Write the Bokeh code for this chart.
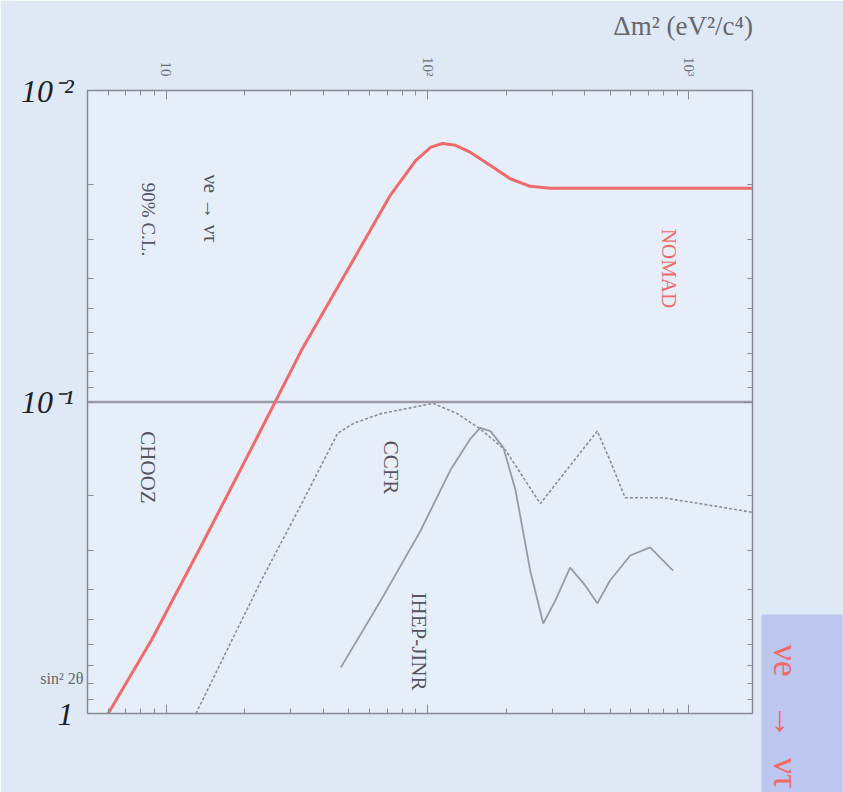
import math
from bokeh.plotting import figure
from bokeh.models import Range1d, LogAxis, FixedTicker, Label, Title
from bokeh.embed import file_html
from bokeh.resources import INLINE

# ---------------- data ----------------
nomad_dm2 = [6.0, 8.8, 13.6, 21, 33, 51, 72, 90, 103, 114, 128, 146, 174, 207, 247, 295, 460, 1750]
nomad_s2 = [1.0, 0.58, 0.29, 0.143, 0.068, 0.036, 0.0217, 0.0168, 0.0152, 0.0148, 0.0150, 0.0158,
            0.0174, 0.0192, 0.0203, 0.0206, 0.0206, 0.0206]

ccfr_dm2 = [13.0, 23.1, 32.7, 45.3, 52.2, 66.2, 105, 130, 159, 199, 270, 351, 446, 499, 570, 796, 1102, 1750]
ccfr_s2 = [1.0, 0.374, 0.215, 0.126, 0.117, 0.109, 0.101, 0.109, 0.122, 0.143, 0.212, 0.160, 0.124,
           0.154, 0.203, 0.203, 0.212, 0.226]

ihep_dm2 = [46.6, 66.2, 94.0, 122, 146, 159, 174, 195, 217, 247, 277, 308, 351, 401, 446, 499, 596, 710, 869]
ihep_s2 = [0.711, 0.434, 0.259, 0.166, 0.131, 0.121, 0.124, 0.140, 0.192, 0.348, 0.514, 0.434, 0.340,
           0.388, 0.443, 0.374, 0.311, 0.293, 0.348]

chooz_dm2 = [5.0, 1750.0]
chooz_s2 = [0.1, 0.1]

dm2_ticks = [10, 100, 1000]
dm2_tick_labels = ["10", "10²", "10³"]
s2_ticks = [0.01, 0.1, 1]
s2_tick_labels = ["10⁻²", "10⁻¹", "1"]

dm2_title, dm2_title_at = "Δm² (eV²/c⁴)", 950
s2_title, s2_title_at = "sin² 2θ", 0.77
NB = "\u00a0"
channel_text = "νe" + NB * 3 + "→" + NB * 2 + "ντ"

# ---------------- layout helpers ----------------
W, H = 843, 792
FL, FR, FT, FB = 87, 752, 90, 713
X0, X1 = 5.0, 1750.0
Y0, Y1 = 0.01, 1.0


def dx(px):
    return 10 ** (math.log10(X0) + (px - FL) / (FR - FL) * (math.log10(X1) - math.log10(X0)))


def dy(py):
    return 10 ** (math.log10(Y0) + (py - FT) / (FB - FT) * (math.log10(Y1) - math.log10(Y0)))


BG = "#dfe9f6"
SERIF = "Liberation Serif"
GRAY_TXT = "#55555f"
AX_COL = "#8a8a96"
RED = "#f06a6a"
ROT = -math.pi / 2

p = figure(width=W, height=H, x_axis_type="log", y_axis_type="log",
           x_range=Range1d(X0, X1), y_range=Range1d(Y1, Y0),
           x_axis_location="above", y_axis_location=None,
           output_backend="svg", toolbar_location=None,
           min_border_left=FL, min_border_right=W - FR, min_border_top=FT, min_border_bottom=H - FB)
p.background_fill_color = "#e6eef9"
p.border_fill_color = BG
p.outline_line_color = AX_COL
p.outline_line_width = 1.5
p.grid.visible = False


def minor_list(lo, hi, with_decades=False):
    out = []
    e = lo
    while e < hi:
        for k in range(1 if with_decades else 2, 10):
            out.append(k * 10 ** e)
        e += 1
    return out


def style_ticks(a):
    a.axis_line_color = AX_COL
    a.major_tick_line_color = AX_COL
    a.minor_tick_line_color = AX_COL
    a.major_tick_in = 9
    a.major_tick_out = 0
    a.minor_tick_in = 5
    a.minor_tick_out = 0


def bare(a):
    a.axis_line_color = None
    a.major_tick_line_color = None
    a.minor_tick_line_color = None
    a.major_tick_in = 0
    a.major_tick_out = 0
    a.minor_tick_in = 0
    a.minor_tick_out = 0


# ---- top: tick axis + title axis
ax = p.xaxis[0]
ax.ticker = FixedTicker(ticks=dm2_ticks, minor_ticks=minor_list(0, 4))
ax.major_label_overrides = {t: l for t, l in zip(dm2_ticks, dm2_tick_labels)}
ax.major_label_orientation = ROT
ax.major_label_text_font = SERIF
ax.major_label_text_font_size = "15px"
ax.major_label_text_color = "#6e6e78"
ax.major_label_standoff = 14
style_ticks(ax)

ax_t = LogAxis(ticker=FixedTicker(ticks=[dm2_title_at], minor_ticks=[]),
               major_label_overrides={dm2_title_at: dm2_title})
bare(ax_t)
ax_t.major_label_orientation = "horizontal"
ax_t.major_label_text_font = SERIF
ax_t.major_label_text_font_size = "27px"
ax_t.major_label_text_color = "#66666e"
ax_t.major_label_standoff = 14
p.add_layout(ax_t, "above")

# ---- left: inner axis (edge ticks + sin^2 2theta), outer axis (decade labels)
ay_in = LogAxis(ticker=FixedTicker(ticks=[s2_title_at], minor_ticks=minor_list(-2, 0, True) + [1.0]),
                major_label_overrides={s2_title_at: s2_title})
ay_in.axis_line_color = AX_COL
ay_in.major_tick_line_color = None
ay_in.minor_tick_line_color = AX_COL
ay_in.major_tick_in = 0
ay_in.major_tick_out = 0
ay_in.minor_tick_in = 6
ay_in.minor_tick_out = 0
ay_in.major_label_orientation = "horizontal"
ay_in.major_label_text_font = SERIF
ay_in.major_label_text_font_size = "16px"
ay_in.major_label_text_color = "#66666e"
ay_in.major_label_standoff = 4
p.add_layout(ay_in, "left")

ay = LogAxis(ticker=FixedTicker(ticks=s2_ticks, minor_ticks=[]),
             major_label_overrides={t: l for t, l in zip(s2_ticks, s2_tick_labels)})
bare(ay)
ay.major_label_orientation = "horizontal"
ay.major_label_text_font = SERIF
ay.major_label_text_font_style = "italic"
ay.major_label_text_font_size = "32px"
ay.major_label_text_color = "#202028"
ay.major_label_standoff = -36
p.add_layout(ay, "left")

# ---- bottom and right: ticks only
ax_b = LogAxis(ticker=FixedTicker(ticks=dm2_ticks, minor_ticks=minor_list(0, 4)),
               major_label_overrides={t: " " for t in dm2_ticks})
ay_r = LogAxis(ticker=FixedTicker(ticks=s2_ticks, minor_ticks=minor_list(-3, 1)),
               major_label_overrides={t: " " for t in s2_ticks})
for a in (ax_b, ay_r):
    style_ticks(a)
    a.major_label_text_font_size = "2px"
    a.major_label_standoff = 0
p.add_layout(ax_b, "below")
p.add_layout(ay_r, "right")

# ---- channel box on the right
try:
    chan = Title(text=channel_text, align="right", offset=-79, text_color=RED,
                 text_font=SERIF, text_font_size="36px", text_font_style="normal",
                 background_fill_color="#bcc6ee",
                 padding=dict(left=30, right=4, top=37, bottom=4))
except Exception:
    chan = Title(text=channel_text, align="right", offset=-79, text_color=RED,
                 text_font=SERIF, text_font_size="36px", text_font_style="normal",
                 background_fill_color="#bcc6ee")
p.add_layout(chan, "right")

# ---------------- curves ----------------
p.line(chooz_dm2, chooz_s2, line_color="#9a9aa8", line_width=2.5)
p.line(ccfr_dm2, ccfr_s2, line_color="#8c8c9a", line_width=1.6, line_dash="3 2")
p.line(ihep_dm2, ihep_s2, line_color="#9a9aa6", line_width=1.8)
p.line(nomad_dm2, nomad_s2, line_color=RED, line_width=3)


# ---------------- texts in the frame ----------------
def lab(px, py, text, size, color=GRAY_TXT, angle=ROT):
    p.add_layout(Label(x=dx(px), y=dy(py), text=text, angle=angle,
                       text_align="center", text_baseline="middle",
                       text_font=SERIF, text_font_size=size, text_color=color))


lab(668, 268, "NOMAD", "21px", RED)
lab(147, 467, "CHOOZ", "21px")
lab(390, 467, "CCFR", "21px")
lab(418, 641, "IHEP-JINR", "21px")
lab(148, 219, "90% C.L.", "19px")
lab(210, 208, "νe → ντ", "21px")

open("out.html", "w").write(file_html(p, INLINE))
